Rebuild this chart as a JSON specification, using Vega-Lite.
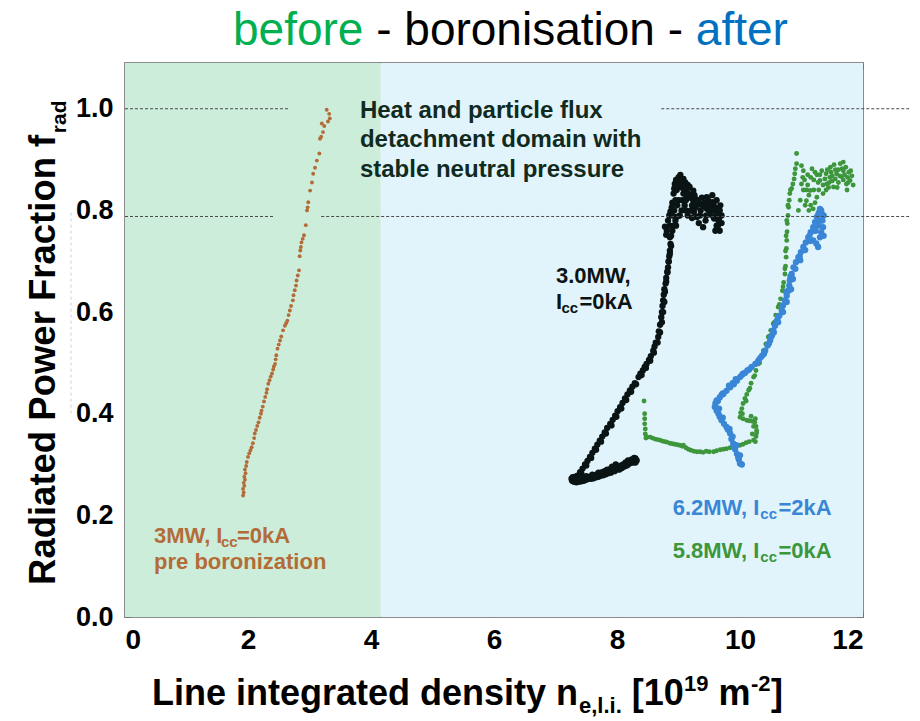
{
  "$schema": "https://vega.github.io/schema/vega-lite/v6.json",
  "width": 738,
  "height": 554,
  "autosize": {"type": "none"},
  "padding": {"left": 125, "top": 63, "right": 57, "bottom": 104},
  "background": "white",
  "datasets": {
    "regions": [
      {"era": "before", "x": 0, "x2": 4.16},
      {"era": "after", "x": 4.16, "x2": 12}
    ],
    "refs": [
      {"x": 0, "x2": 2.65, "y": 1.0},
      {"x": 8.72, "x2": 12.75, "y": 1.0},
      {"x": 0, "x2": 2.43, "y": 0.788},
      {"x": 3.19, "x2": 12.75, "y": 0.788}
    ],
    "guides": [
      {"x": -0.878, "y": 0.4, "y2": 0.8}
    ],
    "points": [
      {"key":"pre","x":1.92,"y":0.239},{"key":"pre","x":1.93,"y":0.245},{"key":"pre","x":1.92,"y":0.252},{"key":"pre","x":1.94,"y":0.258},
      {"key":"pre","x":1.93,"y":0.264},{"key":"pre","x":1.95,"y":0.27},{"key":"pre","x":1.94,"y":0.276},{"key":"pre","x":1.96,"y":0.283},
      {"key":"pre","x":1.95,"y":0.29},{"key":"pre","x":1.97,"y":0.297},{"key":"pre","x":1.98,"y":0.305},{"key":"pre","x":2.0,"y":0.315},
      {"key":"pre","x":2.02,"y":0.322},{"key":"pre","x":2.04,"y":0.328},{"key":"pre","x":2.06,"y":0.334},{"key":"pre","x":2.08,"y":0.342},
      {"key":"pre","x":2.1,"y":0.352},{"key":"pre","x":2.11,"y":0.361},{"key":"pre","x":2.13,"y":0.368},{"key":"pre","x":2.15,"y":0.376},
      {"key":"pre","x":2.17,"y":0.383},{"key":"pre","x":2.19,"y":0.392},{"key":"pre","x":2.21,"y":0.4},{"key":"pre","x":2.22,"y":0.406},
      {"key":"pre","x":2.24,"y":0.414},{"key":"pre","x":2.26,"y":0.424},{"key":"pre","x":2.28,"y":0.433},{"key":"pre","x":2.3,"y":0.441},
      {"key":"pre","x":2.31,"y":0.448},{"key":"pre","x":2.33,"y":0.459},{"key":"pre","x":2.35,"y":0.466},{"key":"pre","x":2.37,"y":0.473},
      {"key":"pre","x":2.39,"y":0.479},{"key":"pre","x":2.41,"y":0.487},{"key":"pre","x":2.42,"y":0.493},{"key":"pre","x":2.44,"y":0.498},
      {"key":"pre","x":2.45,"y":0.507},{"key":"pre","x":2.46,"y":0.515},{"key":"pre","x":2.48,"y":0.528},{"key":"pre","x":2.5,"y":0.536},
      {"key":"pre","x":2.52,"y":0.544},{"key":"pre","x":2.54,"y":0.552},{"key":"pre","x":2.57,"y":0.564},{"key":"pre","x":2.6,"y":0.573},
      {"key":"pre","x":2.62,"y":0.578},{"key":"pre","x":2.64,"y":0.583},{"key":"pre","x":2.66,"y":0.594},{"key":"pre","x":2.68,"y":0.603},
      {"key":"pre","x":2.7,"y":0.612},{"key":"pre","x":2.73,"y":0.623},{"key":"pre","x":2.74,"y":0.633},{"key":"pre","x":2.76,"y":0.643},
      {"key":"pre","x":2.78,"y":0.652},{"key":"pre","x":2.79,"y":0.662},{"key":"pre","x":2.81,"y":0.672},{"key":"pre","x":2.83,"y":0.682},
      {"key":"pre","x":2.84,"y":0.71},{"key":"pre","x":2.85,"y":0.721},{"key":"pre","x":2.86,"y":0.728},{"key":"pre","x":2.87,"y":0.737},
      {"key":"pre","x":2.89,"y":0.744},{"key":"pre","x":2.91,"y":0.751},{"key":"pre","x":2.94,"y":0.771},{"key":"pre","x":2.96,"y":0.8},
      {"key":"pre","x":2.97,"y":0.806},{"key":"pre","x":2.98,"y":0.816},{"key":"pre","x":3.01,"y":0.839},{"key":"pre","x":3.04,"y":0.855},
      {"key":"pre","x":3.06,"y":0.872},{"key":"pre","x":3.09,"y":0.884},{"key":"pre","x":3.12,"y":0.898},{"key":"pre","x":3.16,"y":0.912},
      {"key":"pre","x":3.17,"y":0.941},{"key":"pre","x":3.19,"y":0.945},{"key":"pre","x":3.22,"y":0.954},{"key":"pre","x":3.2,"y":0.971},
      {"key":"pre","x":3.24,"y":0.966},{"key":"pre","x":3.3,"y":0.975},{"key":"pre","x":3.33,"y":0.981},{"key":"pre","x":3.32,"y":0.99},
      {"key":"pre","x":3.28,"y":0.998},

      {"key":"3.0MW","x":8.32,"y":0.308},{"key":"3.0MW","x":8.3,"y":0.312},{"key":"3.0MW","x":8.26,"y":0.304},{"key":"3.0MW","x":8.22,"y":0.303},
      {"key":"3.0MW","x":8.18,"y":0.3},{"key":"3.0MW","x":8.16,"y":0.298},{"key":"3.0MW","x":8.12,"y":0.296},{"key":"3.0MW","x":8.08,"y":0.293},
      {"key":"3.0MW","x":8.04,"y":0.29},{"key":"3.0MW","x":8.0,"y":0.29},{"key":"3.0MW","x":7.96,"y":0.287},{"key":"3.0MW","x":7.94,"y":0.288},
      {"key":"3.0MW","x":7.9,"y":0.284},{"key":"3.0MW","x":7.86,"y":0.283},{"key":"3.0MW","x":7.82,"y":0.281},{"key":"3.0MW","x":7.78,"y":0.279},
      {"key":"3.0MW","x":7.74,"y":0.278},{"key":"3.0MW","x":7.7,"y":0.276},{"key":"3.0MW","x":7.66,"y":0.275},{"key":"3.0MW","x":7.62,"y":0.273},
      {"key":"3.0MW","x":7.58,"y":0.272},{"key":"3.0MW","x":7.54,"y":0.272},{"key":"3.0MW","x":7.5,"y":0.27},{"key":"3.0MW","x":7.46,"y":0.268},
      {"key":"3.0MW","x":7.42,"y":0.267},{"key":"3.0MW","x":7.38,"y":0.266},{"key":"3.0MW","x":7.34,"y":0.265},{"key":"3.0MW","x":7.3,"y":0.266},
      {"key":"3.0MW","x":7.27,"y":0.268},{"key":"3.0MW","x":7.26,"y":0.272},{"key":"3.0MW","x":7.28,"y":0.275},{"key":"3.0MW","x":7.32,"y":0.276},
      {"key":"3.0MW","x":7.36,"y":0.278},{"key":"3.0MW","x":7.4,"y":0.28},{"key":"3.0MW","x":8.1,"y":0.3},{"key":"3.0MW","x":7.9,"y":0.292},
      {"key":"3.0MW","x":7.7,"y":0.284},{"key":"3.0MW","x":7.5,"y":0.277},{"key":"3.0MW","x":7.3,"y":0.272},{"key":"3.0MW","x":8.28,"y":0.313},
      {"key":"3.0MW","x":7.6,"y":0.28},{"key":"3.0MW","x":7.8,"y":0.287},{"key":"3.0MW","x":8.0,"y":0.296},{"key":"3.0MW","x":8.2,"y":0.306},
      {"key":"3.0MW","x":8.3,"y":0.304},{"key":"3.0MW","x":8.24,"y":0.31},{"key":"3.0MW","x":8.14,"y":0.304},{"key":"3.0MW","x":8.06,"y":0.298},
      {"key":"3.0MW","x":7.98,"y":0.3},{"key":"3.0MW","x":7.92,"y":0.296},{"key":"3.0MW","x":7.84,"y":0.29},{"key":"3.0MW","x":7.76,"y":0.285},
      {"key":"3.0MW","x":7.68,"y":0.281},{"key":"3.0MW","x":7.56,"y":0.276},{"key":"3.0MW","x":7.44,"y":0.272},{"key":"3.0MW","x":7.34,"y":0.27},
      {"key":"3.0MW","x":8.18,"y":0.308},{"key":"3.0MW","x":7.88,"y":0.288},{"key":"3.0MW","x":7.64,"y":0.279},
      {"key":"3.0MW","x":7.4,"y":0.285},{"key":"3.0MW","x":7.44,"y":0.292},{"key":"3.0MW","x":7.48,"y":0.3},{"key":"3.0MW","x":7.52,"y":0.307},
      {"key":"3.0MW","x":7.56,"y":0.315},{"key":"3.0MW","x":7.6,"y":0.323},{"key":"3.0MW","x":7.64,"y":0.331},{"key":"3.0MW","x":7.68,"y":0.339},
      {"key":"3.0MW","x":7.72,"y":0.347},{"key":"3.0MW","x":7.76,"y":0.355},{"key":"3.0MW","x":7.8,"y":0.363},{"key":"3.0MW","x":7.84,"y":0.372},
      {"key":"3.0MW","x":7.89,"y":0.38},{"key":"3.0MW","x":7.93,"y":0.388},{"key":"3.0MW","x":7.97,"y":0.396},{"key":"3.0MW","x":8.01,"y":0.405},
      {"key":"3.0MW","x":8.05,"y":0.413},{"key":"3.0MW","x":8.09,"y":0.421},{"key":"3.0MW","x":8.13,"y":0.43},{"key":"3.0MW","x":8.17,"y":0.438},
      {"key":"3.0MW","x":8.21,"y":0.446},{"key":"3.0MW","x":8.25,"y":0.453},{"key":"3.0MW","x":8.29,"y":0.46},{"key":"3.0MW","x":8.35,"y":0.472},
      {"key":"3.0MW","x":8.38,"y":0.479},{"key":"3.0MW","x":8.42,"y":0.485},{"key":"3.0MW","x":8.45,"y":0.492},{"key":"3.0MW","x":8.48,"y":0.498},
      {"key":"3.0MW","x":8.52,"y":0.506},{"key":"3.0MW","x":8.55,"y":0.513},{"key":"3.0MW","x":8.59,"y":0.524},{"key":"3.0MW","x":8.61,"y":0.532},
      {"key":"3.0MW","x":8.63,"y":0.54},{"key":"3.0MW","x":8.67,"y":0.551},{"key":"3.0MW","x":8.68,"y":0.562},{"key":"3.0MW","x":8.7,"y":0.575},
      {"key":"3.0MW","x":8.72,"y":0.59},{"key":"3.0MW","x":8.73,"y":0.6},{"key":"3.0MW","x":8.74,"y":0.612},{"key":"3.0MW","x":8.75,"y":0.623},
      {"key":"3.0MW","x":8.76,"y":0.634},{"key":"3.0MW","x":8.77,"y":0.645},{"key":"3.0MW","x":8.79,"y":0.656},{"key":"3.0MW","x":8.8,"y":0.667},
      {"key":"3.0MW","x":8.82,"y":0.678},{"key":"3.0MW","x":8.83,"y":0.688},{"key":"3.0MW","x":8.84,"y":0.699},{"key":"3.0MW","x":8.85,"y":0.71},
      {"key":"3.0MW","x":8.86,"y":0.721},{"key":"3.0MW","x":8.87,"y":0.734},{"key":"3.0MW","x":8.86,"y":0.747},{"key":"3.0MW","x":8.81,"y":0.76},
      {"key":"3.0MW","x":8.8,"y":0.752},{"key":"3.0MW","x":8.78,"y":0.768},{"key":"3.0MW","x":8.83,"y":0.78},{"key":"3.0MW","x":8.85,"y":0.79},
      {"key":"3.0MW","x":8.87,"y":0.798},{"key":"3.0MW","x":8.89,"y":0.806},{"key":"3.0MW","x":8.9,"y":0.815},{"key":"3.0MW","x":8.92,"y":0.833},
      {"key":"3.0MW","x":8.93,"y":0.843},{"key":"3.0MW","x":8.94,"y":0.852},{"key":"3.0MW","x":8.96,"y":0.86},{"key":"3.0MW","x":9.0,"y":0.865},
      {"key":"3.0MW","x":9.03,"y":0.87},{"key":"3.0MW","x":9.08,"y":0.862},{"key":"3.0MW","x":9.11,"y":0.855},{"key":"3.0MW","x":9.15,"y":0.85},
      {"key":"3.0MW","x":9.18,"y":0.846},{"key":"3.0MW","x":9.13,"y":0.826},{"key":"3.0MW","x":9.2,"y":0.83},{"key":"3.0MW","x":9.24,"y":0.819},
      {"key":"3.0MW","x":9.28,"y":0.822},{"key":"3.0MW","x":9.3,"y":0.81},{"key":"3.0MW","x":9.35,"y":0.813},{"key":"3.0MW","x":9.4,"y":0.808},
      {"key":"3.0MW","x":9.46,"y":0.803},{"key":"3.0MW","x":9.5,"y":0.81},{"key":"3.0MW","x":9.55,"y":0.816},{"key":"3.0MW","x":9.57,"y":0.813},
      {"key":"3.0MW","x":9.6,"y":0.805},{"key":"3.0MW","x":9.63,"y":0.795},{"key":"3.0MW","x":9.67,"y":0.8},{"key":"3.0MW","x":9.65,"y":0.78},
      {"key":"3.0MW","x":9.67,"y":0.76},{"key":"3.0MW","x":9.62,"y":0.77},{"key":"3.0MW","x":9.58,"y":0.784},{"key":"3.0MW","x":9.52,"y":0.792},
      {"key":"3.0MW","x":9.45,"y":0.79},{"key":"3.0MW","x":9.4,"y":0.767},{"key":"3.0MW","x":9.3,"y":0.787},{"key":"3.0MW","x":9.25,"y":0.797},
      {"key":"3.0MW","x":9.2,"y":0.8},{"key":"3.0MW","x":9.1,"y":0.81},{"key":"3.0MW","x":9.05,"y":0.8},{"key":"3.0MW","x":8.97,"y":0.787},
      {"key":"3.0MW","x":9.0,"y":0.82},{"key":"3.0MW","x":9.08,"y":0.833},{"key":"3.0MW","x":9.24,"y":0.839},{"key":"3.0MW","x":9.46,"y":0.826},
      {"key":"3.0MW","x":9.57,"y":0.787},{"key":"3.0MW","x":9.35,"y":0.79},{"key":"3.0MW","x":9.15,"y":0.79},{"key":"3.0MW","x":9.12,"y":0.82},
      {"key":"3.0MW","x":9.05,"y":0.845},{"key":"3.0MW","x":8.98,"y":0.81},{"key":"3.0MW","x":8.95,"y":0.78},{"key":"3.0MW","x":8.9,"y":0.76},
      {"key":"3.0MW","x":8.92,"y":0.77},{"key":"3.0MW","x":9.38,"y":0.825},{"key":"3.0MW","x":9.5,"y":0.8},{"key":"3.0MW","x":9.62,"y":0.82},
      {"key":"3.0MW","x":9.7,"y":0.79},
      {"key":"3.0MW","x":7.42,"y":0.283},{"key":"3.0MW","x":7.5,"y":0.298},{"key":"3.0MW","x":7.58,"y":0.313},{"key":"3.0MW","x":7.66,"y":0.329},
      {"key":"3.0MW","x":7.74,"y":0.345},{"key":"3.0MW","x":7.82,"y":0.361},{"key":"3.0MW","x":7.91,"y":0.377},{"key":"3.0MW","x":7.99,"y":0.394},
      {"key":"3.0MW","x":8.07,"y":0.41},{"key":"3.0MW","x":8.15,"y":0.427},{"key":"3.0MW","x":8.23,"y":0.443},{"key":"3.0MW","x":8.31,"y":0.458},
      {"key":"3.0MW","x":8.4,"y":0.476},{"key":"3.0MW","x":8.47,"y":0.49},{"key":"3.0MW","x":8.54,"y":0.504},{"key":"3.0MW","x":8.6,"y":0.52},
      {"key":"3.0MW","x":8.66,"y":0.54},{"key":"3.0MW","x":8.7,"y":0.56},{"key":"3.0MW","x":8.73,"y":0.58},{"key":"3.0MW","x":8.75,"y":0.6},
      {"key":"3.0MW","x":8.77,"y":0.62},{"key":"3.0MW","x":8.78,"y":0.64},{"key":"3.0MW","x":8.8,"y":0.66},{"key":"3.0MW","x":8.82,"y":0.68},
      {"key":"3.0MW","x":8.84,"y":0.7},{"key":"3.0MW","x":8.86,"y":0.715},{"key":"3.0MW","x":8.88,"y":0.73},
      {"key":"3.0MW","x":8.88,"y":0.75},{"key":"3.0MW","x":8.86,"y":0.77},{"key":"3.0MW","x":8.9,"y":0.79},{"key":"3.0MW","x":8.93,"y":0.8},
      {"key":"3.0MW","x":8.95,"y":0.82},{"key":"3.0MW","x":8.97,"y":0.84},{"key":"3.0MW","x":8.99,"y":0.85},{"key":"3.0MW","x":9.02,"y":0.855},
      {"key":"3.0MW","x":9.06,"y":0.85},{"key":"3.0MW","x":9.1,"y":0.84},{"key":"3.0MW","x":9.14,"y":0.835},{"key":"3.0MW","x":9.18,"y":0.825},
      {"key":"3.0MW","x":9.22,"y":0.81},{"key":"3.0MW","x":9.27,"y":0.805},{"key":"3.0MW","x":9.32,"y":0.82},{"key":"3.0MW","x":9.36,"y":0.8},
      {"key":"3.0MW","x":9.42,"y":0.815},{"key":"3.0MW","x":9.48,"y":0.82},{"key":"3.0MW","x":9.53,"y":0.805},{"key":"3.0MW","x":9.58,"y":0.8},
      {"key":"3.0MW","x":9.62,"y":0.79},{"key":"3.0MW","x":9.66,"y":0.785},{"key":"3.0MW","x":9.7,"y":0.775},{"key":"3.0MW","x":9.68,"y":0.81},
      {"key":"3.0MW","x":9.44,"y":0.78},{"key":"3.0MW","x":9.33,"y":0.775},{"key":"3.0MW","x":9.22,"y":0.785},{"key":"3.0MW","x":9.12,"y":0.8},
      {"key":"3.0MW","x":9.02,"y":0.79},{"key":"3.0MW","x":8.96,"y":0.77},{"key":"3.0MW","x":9.06,"y":0.82},{"key":"3.0MW","x":9.16,"y":0.845},
      {"key":"3.0MW","x":9.26,"y":0.83},{"key":"3.0MW","x":9.55,"y":0.83},{"key":"3.0MW","x":9.64,"y":0.77},{"key":"3.0MW","x":9.6,"y":0.76},

      {"key":"5.8MW","x":8.44,"y":0.425},{"key":"5.8MW","x":8.45,"y":0.4},{"key":"5.8MW","x":8.45,"y":0.39},{"key":"5.8MW","x":8.45,"y":0.38},
      {"key":"5.8MW","x":8.46,"y":0.37},{"key":"5.8MW","x":8.46,"y":0.36},{"key":"5.8MW","x":8.47,"y":0.352},{"key":"5.8MW","x":8.5,"y":0.354},
      {"key":"5.8MW","x":8.54,"y":0.354},{"key":"5.8MW","x":8.58,"y":0.352},{"key":"5.8MW","x":8.62,"y":0.35},{"key":"5.8MW","x":8.66,"y":0.349},
      {"key":"5.8MW","x":8.7,"y":0.348},{"key":"5.8MW","x":8.74,"y":0.346},{"key":"5.8MW","x":8.78,"y":0.345},{"key":"5.8MW","x":8.81,"y":0.344},
      {"key":"5.8MW","x":8.86,"y":0.342},{"key":"5.8MW","x":8.9,"y":0.341},{"key":"5.8MW","x":8.94,"y":0.34},{"key":"5.8MW","x":8.98,"y":0.339},
      {"key":"5.8MW","x":9.02,"y":0.338},{"key":"5.8MW","x":9.06,"y":0.336},{"key":"5.8MW","x":9.08,"y":0.338},{"key":"5.8MW","x":9.12,"y":0.333},
      {"key":"5.8MW","x":9.16,"y":0.33},{"key":"5.8MW","x":9.2,"y":0.328},{"key":"5.8MW","x":9.25,"y":0.326},{"key":"5.8MW","x":9.3,"y":0.325},
      {"key":"5.8MW","x":9.35,"y":0.325},{"key":"5.8MW","x":9.4,"y":0.324},{"key":"5.8MW","x":9.45,"y":0.326},{"key":"5.8MW","x":9.5,"y":0.325},
      {"key":"5.8MW","x":9.57,"y":0.325},{"key":"5.8MW","x":9.62,"y":0.327},{"key":"5.8MW","x":9.68,"y":0.329},{"key":"5.8MW","x":9.73,"y":0.33},
      {"key":"5.8MW","x":9.78,"y":0.331},{"key":"5.8MW","x":9.84,"y":0.333},{"key":"5.8MW","x":9.9,"y":0.335},{"key":"5.8MW","x":9.95,"y":0.337},
      {"key":"5.8MW","x":10.0,"y":0.338},{"key":"5.8MW","x":10.05,"y":0.34},{"key":"5.8MW","x":10.1,"y":0.343},{"key":"5.8MW","x":10.15,"y":0.345},
      {"key":"5.8MW","x":10.22,"y":0.348},{"key":"5.8MW","x":10.26,"y":0.355},{"key":"5.8MW","x":10.27,"y":0.362},{"key":"5.8MW","x":10.27,"y":0.367},
      {"key":"5.8MW","x":10.26,"y":0.375},{"key":"5.8MW","x":10.24,"y":0.383},{"key":"5.8MW","x":10.2,"y":0.385},{"key":"5.8MW","x":10.15,"y":0.386},
      {"key":"5.8MW","x":10.11,"y":0.387},{"key":"5.8MW","x":10.05,"y":0.39},{"key":"5.8MW","x":10.0,"y":0.393},{"key":"5.8MW","x":10.01,"y":0.402},
      {"key":"5.8MW","x":10.03,"y":0.41},{"key":"5.8MW","x":10.05,"y":0.42},{"key":"5.8MW","x":10.08,"y":0.43},{"key":"5.8MW","x":10.11,"y":0.438},
      {"key":"5.8MW","x":10.14,"y":0.446},{"key":"5.8MW","x":10.18,"y":0.46},{"key":"5.8MW","x":10.22,"y":0.472},{"key":"5.8MW","x":10.26,"y":0.485},
      {"key":"5.8MW","x":10.3,"y":0.498},{"key":"5.8MW","x":10.34,"y":0.511},{"key":"5.8MW","x":10.38,"y":0.524},{"key":"5.8MW","x":10.42,"y":0.537},
      {"key":"5.8MW","x":10.46,"y":0.551},{"key":"5.8MW","x":10.5,"y":0.564},{"key":"5.8MW","x":10.54,"y":0.577},{"key":"5.8MW","x":10.58,"y":0.594},
      {"key":"5.8MW","x":10.62,"y":0.61},{"key":"5.8MW","x":10.66,"y":0.626},{"key":"5.8MW","x":10.69,"y":0.642},{"key":"5.8MW","x":10.71,"y":0.658},
      {"key":"5.8MW","x":10.73,"y":0.675},{"key":"5.8MW","x":10.74,"y":0.69},{"key":"5.8MW","x":10.75,"y":0.708},{"key":"5.8MW","x":10.755,"y":0.725},
      {"key":"5.8MW","x":10.76,"y":0.741},{"key":"5.8MW","x":10.765,"y":0.758},{"key":"5.8MW","x":10.77,"y":0.774},{"key":"5.8MW","x":10.78,"y":0.79},
      {"key":"5.8MW","x":10.79,"y":0.806},{"key":"5.8MW","x":10.8,"y":0.82},{"key":"5.8MW","x":10.81,"y":0.833},{"key":"5.8MW","x":10.84,"y":0.843},
      {"key":"5.8MW","x":10.86,"y":0.852},{"key":"5.8MW","x":10.88,"y":0.862},{"key":"5.8MW","x":10.89,"y":0.872},{"key":"5.8MW","x":10.9,"y":0.882},
      {"key":"5.8MW","x":10.92,"y":0.892},{"key":"5.8MW","x":10.92,"y":0.912},{"key":"5.8MW","x":10.2,"y":0.36},{"key":"5.8MW","x":10.22,"y":0.375},
      {"key":"5.8MW","x":10.25,"y":0.345},{"key":"5.8MW","x":10.18,"y":0.395},{"key":"5.8MW","x":10.25,"y":0.39},
      {"key":"5.8MW","x":10.04,"y":0.4},{"key":"5.8MW","x":10.1,"y":0.425},{"key":"5.8MW","x":10.16,"y":0.45},{"key":"5.8MW","x":10.24,"y":0.475},
      {"key":"5.8MW","x":10.32,"y":0.5},{"key":"5.8MW","x":10.4,"y":0.525},{"key":"5.8MW","x":10.48,"y":0.553},{"key":"5.8MW","x":10.56,"y":0.58},
      {"key":"5.8MW","x":10.64,"y":0.615},{"key":"5.8MW","x":10.7,"y":0.65},{"key":"5.8MW","x":10.73,"y":0.685},{"key":"5.8MW","x":10.74,"y":0.72},
      {"key":"5.8MW","x":10.75,"y":0.75},{"key":"5.8MW","x":10.76,"y":0.78},{"key":"5.8MW","x":10.78,"y":0.81},{"key":"5.8MW","x":10.82,"y":0.84},
      {"key":"5.8MW","x":11.0,"y":0.852},{"key":"5.8MW","x":11.08,"y":0.819},{"key":"5.8MW","x":11.19,"y":0.803},{"key":"5.8MW","x":11.14,"y":0.839},
      {"key":"5.8MW","x":11.3,"y":0.859},{"key":"5.8MW","x":11.46,"y":0.865},{"key":"5.8MW","x":11.57,"y":0.872},{"key":"5.8MW","x":11.68,"y":0.878},
      {"key":"5.8MW","x":11.79,"y":0.859},{"key":"5.8MW","x":11.73,"y":0.852},{"key":"5.8MW","x":11.52,"y":0.846},{"key":"5.8MW","x":11.35,"y":0.833},
      {"key":"5.8MW","x":11.25,"y":0.826},{"key":"5.8MW","x":11.41,"y":0.852},{"key":"5.8MW","x":11.03,"y":0.878},{"key":"5.8MW","x":11.0,"y":0.888},
      {"key":"5.8MW","x":11.63,"y":0.892},{"key":"5.8MW","x":11.68,"y":0.895},{"key":"5.8MW","x":11.33,"y":0.878},{"key":"5.8MW","x":11.17,"y":0.882},
      {"key":"5.8MW","x":11.05,"y":0.86},{"key":"5.8MW","x":11.1,"y":0.85},{"key":"5.8MW","x":11.12,"y":0.83},{"key":"5.8MW","x":11.15,"y":0.81},
      {"key":"5.8MW","x":11.22,"y":0.815},{"key":"5.8MW","x":11.28,"y":0.84},{"key":"5.8MW","x":11.2,"y":0.86},{"key":"5.8MW","x":11.38,"y":0.862},
      {"key":"5.8MW","x":11.44,"y":0.845},{"key":"5.8MW","x":11.5,"y":0.858},{"key":"5.8MW","x":11.55,"y":0.862},{"key":"5.8MW","x":11.6,"y":0.855},
      {"key":"5.8MW","x":11.65,"y":0.866},{"key":"5.8MW","x":11.7,"y":0.87},{"key":"5.8MW","x":11.75,"y":0.865},{"key":"5.8MW","x":11.77,"y":0.875},
      {"key":"5.8MW","x":11.6,"y":0.88},{"key":"5.8MW","x":11.48,"y":0.875},{"key":"5.8MW","x":11.4,"y":0.872},{"key":"5.8MW","x":11.25,"y":0.87},
      {"key":"5.8MW","x":11.1,"y":0.87},{"key":"5.8MW","x":11.03,"y":0.84},{"key":"5.8MW","x":10.98,"y":0.82},{"key":"5.8MW","x":10.95,"y":0.8},
      {"key":"5.8MW","x":11.06,"y":0.81},{"key":"5.8MW","x":11.12,"y":0.8},{"key":"5.8MW","x":11.82,"y":0.868},{"key":"5.8MW","x":11.72,"y":0.885},
      {"key":"5.8MW","x":11.55,"y":0.88},{"key":"5.8MW","x":11.3,"y":0.87},{"key":"5.8MW","x":11.45,"y":0.855},{"key":"5.8MW","x":11.62,"y":0.868},
      {"key":"5.8MW","x":11.68,"y":0.86},{"key":"5.8MW","x":11.76,"y":0.855},{"key":"5.8MW","x":11.8,"y":0.878},{"key":"5.8MW","x":11.5,"y":0.868},
      {"key":"5.8MW","x":11.35,"y":0.85},{"key":"5.8MW","x":11.2,"y":0.84},{"key":"5.8MW","x":11.08,"y":0.84},
      {"key":"5.8MW","x":11.15,"y":0.865},{"key":"5.8MW","x":11.27,"y":0.855},{"key":"5.8MW","x":11.42,"y":0.88},{"key":"5.8MW","x":11.53,"y":0.89},
      {"key":"5.8MW","x":11.66,"y":0.882},{"key":"5.8MW","x":11.74,"y":0.84},{"key":"5.8MW","x":11.84,"y":0.85},{"key":"5.8MW","x":11.58,"y":0.845},
      {"key":"5.8MW","x":11.02,"y":0.865},{"key":"5.8MW","x":11.22,"y":0.875},{"key":"5.8MW","x":11.4,"y":0.84},{"key":"5.8MW","x":11.47,"y":0.885},

      {"key":"6.2MW","x":10.0,"y":0.302},{"key":"6.2MW","x":9.98,"y":0.31},{"key":"6.2MW","x":9.95,"y":0.321},{"key":"6.2MW","x":9.92,"y":0.33},
      {"key":"6.2MW","x":9.89,"y":0.341},{"key":"6.2MW","x":9.86,"y":0.35},{"key":"6.2MW","x":9.84,"y":0.361},{"key":"6.2MW","x":9.81,"y":0.368},
      {"key":"6.2MW","x":9.78,"y":0.374},{"key":"6.2MW","x":9.74,"y":0.38},{"key":"6.2MW","x":9.7,"y":0.387},{"key":"6.2MW","x":9.67,"y":0.394},
      {"key":"6.2MW","x":9.65,"y":0.4},{"key":"6.2MW","x":9.62,"y":0.406},{"key":"6.2MW","x":9.59,"y":0.413},{"key":"6.2MW","x":9.6,"y":0.42},
      {"key":"6.2MW","x":9.62,"y":0.426},{"key":"6.2MW","x":9.67,"y":0.432},{"key":"6.2MW","x":9.73,"y":0.439},{"key":"6.2MW","x":9.78,"y":0.445},
      {"key":"6.2MW","x":9.84,"y":0.452},{"key":"6.2MW","x":9.9,"y":0.458},{"key":"6.2MW","x":9.95,"y":0.465},{"key":"6.2MW","x":10.0,"y":0.472},
      {"key":"6.2MW","x":10.05,"y":0.479},{"key":"6.2MW","x":10.12,"y":0.485},{"key":"6.2MW","x":10.19,"y":0.492},{"key":"6.2MW","x":10.25,"y":0.498},
      {"key":"6.2MW","x":10.3,"y":0.505},{"key":"6.2MW","x":10.36,"y":0.514},{"key":"6.2MW","x":10.41,"y":0.524},{"key":"6.2MW","x":10.45,"y":0.534},
      {"key":"6.2MW","x":10.49,"y":0.544},{"key":"6.2MW","x":10.52,"y":0.554},{"key":"6.2MW","x":10.54,"y":0.564},{"key":"6.2MW","x":10.57,"y":0.573},
      {"key":"6.2MW","x":10.6,"y":0.583},{"key":"6.2MW","x":10.64,"y":0.593},{"key":"6.2MW","x":10.68,"y":0.603},{"key":"6.2MW","x":10.7,"y":0.613},
      {"key":"6.2MW","x":10.73,"y":0.623},{"key":"6.2MW","x":10.76,"y":0.632},{"key":"6.2MW","x":10.79,"y":0.642},{"key":"6.2MW","x":10.8,"y":0.652},
      {"key":"6.2MW","x":10.81,"y":0.662},{"key":"6.2MW","x":10.84,"y":0.675},{"key":"6.2MW","x":10.87,"y":0.688},{"key":"6.2MW","x":10.91,"y":0.698},
      {"key":"6.2MW","x":10.95,"y":0.708},{"key":"6.2MW","x":10.99,"y":0.718},{"key":"6.2MW","x":11.03,"y":0.728},{"key":"6.2MW","x":11.07,"y":0.737},
      {"key":"6.2MW","x":11.11,"y":0.747},{"key":"6.2MW","x":11.15,"y":0.757},{"key":"6.2MW","x":11.19,"y":0.767},{"key":"6.2MW","x":11.22,"y":0.777},
      {"key":"6.2MW","x":11.25,"y":0.787},{"key":"6.2MW","x":11.28,"y":0.795},{"key":"6.2MW","x":11.3,"y":0.803},{"key":"6.2MW","x":11.33,"y":0.793},
      {"key":"6.2MW","x":11.34,"y":0.78},{"key":"6.2MW","x":11.35,"y":0.767},{"key":"6.2MW","x":11.32,"y":0.757},{"key":"6.2MW","x":11.3,"y":0.747},
      {"key":"6.2MW","x":11.27,"y":0.728},{"key":"6.2MW","x":11.24,"y":0.735},{"key":"6.2MW","x":11.19,"y":0.741},{"key":"6.2MW","x":11.23,"y":0.76},
      {"key":"6.2MW","x":11.28,"y":0.77},{"key":"6.2MW","x":11.3,"y":0.78},{"key":"6.2MW","x":9.97,"y":0.315},{"key":"6.2MW","x":9.9,"y":0.335},
      {"key":"6.2MW","x":9.8,"y":0.37},{"key":"6.2MW","x":9.63,"y":0.41},{"key":"6.2MW","x":9.7,"y":0.437},{"key":"6.2MW","x":9.88,"y":0.46},
      {"key":"6.2MW","x":10.08,"y":0.48},{"key":"6.2MW","x":10.33,"y":0.51},{"key":"6.2MW","x":10.5,"y":0.55},{"key":"6.2MW","x":10.62,"y":0.59},
      {"key":"6.2MW","x":10.75,"y":0.64},{"key":"6.2MW","x":10.82,"y":0.67},{"key":"6.2MW","x":10.97,"y":0.71},{"key":"6.2MW","x":11.13,"y":0.75},
      {"key":"6.2MW","x":11.27,"y":0.79},
      {"key":"6.2MW","x":10.03,"y":0.3},{"key":"6.2MW","x":10.0,"y":0.318},{"key":"6.2MW","x":9.94,"y":0.338},{"key":"6.2MW","x":9.88,"y":0.355},
      {"key":"6.2MW","x":9.83,"y":0.37},{"key":"6.2MW","x":9.72,"y":0.392},{"key":"6.2MW","x":9.66,"y":0.41},{"key":"6.2MW","x":9.64,"y":0.425},
      {"key":"6.2MW","x":9.72,"y":0.44},{"key":"6.2MW","x":9.82,"y":0.455},{"key":"6.2MW","x":9.93,"y":0.468},{"key":"6.2MW","x":10.03,"y":0.476},
      {"key":"6.2MW","x":10.15,"y":0.487},{"key":"6.2MW","x":10.28,"y":0.5},{"key":"6.2MW","x":10.39,"y":0.518},{"key":"6.2MW","x":10.47,"y":0.538},
      {"key":"6.2MW","x":10.55,"y":0.56},{"key":"6.2MW","x":10.62,"y":0.58},{"key":"6.2MW","x":10.7,"y":0.6},{"key":"6.2MW","x":10.76,"y":0.62},
      {"key":"6.2MW","x":10.83,"y":0.645},{"key":"6.2MW","x":10.86,"y":0.665},{"key":"6.2MW","x":10.9,"y":0.685},{"key":"6.2MW","x":10.98,"y":0.702},
      {"key":"6.2MW","x":11.06,"y":0.722},{"key":"6.2MW","x":11.14,"y":0.74},{"key":"6.2MW","x":11.21,"y":0.76},{"key":"6.2MW","x":11.26,"y":0.775},
      {"key":"6.2MW","x":11.32,"y":0.8},{"key":"6.2MW","x":11.36,"y":0.79},{"key":"6.2MW","x":11.36,"y":0.75}
    ],
    "labels": [
      {"kind":"title","key":"before-text","text":"before","x":2.816,"y":1.125},
      {"kind":"title","key":"boronisation","text":"- boronisation -","x":6.579,"y":1.125},
      {"kind":"title","key":"after-text","text":"after","x":10.03,"y":1.125},
      {"kind":"note","key":"note","text":"Heat and particle flux","x":3.82,"y":0.982},
      {"kind":"note","key":"note","text":"detachment domain with","x":3.82,"y":0.925},
      {"kind":"note","key":"note","text":"stable neutral pressure","x":3.82,"y":0.866},
      {"kind":"label","key":"3.0MW","text":"3.0MW,","x":7.008,"y":0.657},
      {"kind":"label","key":"3.0MW","text":"I","x":7.008,"y":0.606},
      {"kind":"label","key":"3.0MW","text":"=0kA","x":7.39,"y":0.606},
      {"kind":"label-sub","key":"3.0MW","text":"cc","x":7.098,"y":0.598},
      {"kind":"label","key":"6.2MW","text":"6.2MW, I","x":8.905,"y":0.2007},
      {"kind":"label","key":"6.2MW","text":"=2kA","x":10.626,"y":0.2007},
      {"kind":"label-sub","key":"6.2MW","text":"cc","x":10.33,"y":0.193},
      {"kind":"label","key":"5.8MW","text":"5.8MW, I","x":8.905,"y":0.116},
      {"kind":"label","key":"5.8MW","text":"=0kA","x":10.626,"y":0.116},
      {"kind":"label-sub","key":"5.8MW","text":"cc","x":10.33,"y":0.108},
      {"kind":"label","key":"pre","text":"3MW, I","x":0.472,"y":0.145},
      {"kind":"label","key":"pre","text":"=0kA","x":1.821,"y":0.145},
      {"kind":"label","key":"pre","text":"pre boronization","x":0.472,"y":0.094},
      {"kind":"label-sub","key":"pre","text":"cc","x":1.561,"y":0.138},
      {"kind":"xtitle","key":"axis","text":"Line integrated density n","x":0.439,"y":-0.173},
      {"kind":"xtitle","key":"axis","text":"[10","x":8.241,"y":-0.173},
      {"kind":"xtitle","key":"axis","text":"m","x":9.65,"y":-0.173},
      {"kind":"xtitle","key":"axis","text":"]","x":10.504,"y":-0.173},
      {"kind":"xtitle-small","key":"axis","text":"e,l.i.","x":7.382,"y":-0.189},
      {"kind":"xtitle-small","key":"axis","text":"19","x":9.089,"y":-0.146},
      {"kind":"xtitle-small","key":"axis","text":"-2","x":10.179,"y":-0.146},
      {"kind":"ytitle","key":"axis","text":"Radiated Power Fraction f","x":-1.138,"y":0.063},
      {"kind":"ytitle-sub","key":"axis","text":"rad","x":-0.959,"y":0.952}
    ]
  },
  "resolve": {"axis": {"x": "independent", "y": "independent"}},
  "layer": [
    {
      "data": {"name": "regions"},
      "mark": {"type": "rect"},
      "encoding": {
        "x": {"field": "x", "type": "quantitative", "scale": {"domain": [0, 12], "nice": false, "zero": false}, "axis": null},
        "x2": {"field": "x2"},
        "color": {"field": "era", "type": "nominal", "legend": null,
          "scale": {"domain": ["before", "after", "pre", "3.0MW", "6.2MW", "5.8MW", "boronisation", "note", "axis", "before-text", "after-text"],
                    "range": ["#CDEDDB", "#E2F4FB", "#B36C38", "#0B1414", "#3A86D6", "#3D963B", "#000000", "#102A20", "#000000", "#00B050", "#0070C0"]}}
      }
    },
    {
      "data": {"name": "guides"},
      "mark": {"type": "rule", "color": "#cfcfcf", "strokeDash": [3, 3], "strokeWidth": 1},
      "encoding": {
        "x": {"field": "x", "type": "quantitative", "scale": {"domain": [0, 12], "nice": false, "zero": false}, "axis": null},
        "y": {"field": "y", "type": "quantitative", "scale": {"domain": [0, 1.09], "nice": false, "zero": false}, "axis": null},
        "y2": {"field": "y2"}
      }
    },
    {
      "data": {"name": "points"},
      "mark": {"type": "circle", "opacity": 1},
      "encoding": {
        "x": {"field": "x", "type": "quantitative", "scale": {"domain": [0, 12], "nice": false, "zero": false},
          "axis": {"orient": "top", "values": [0, 2, 4, 6, 8, 10, 12], "labels": false, "ticks": true, "tickSize": -6, "tickColor": "#777777", "domain": false, "grid": false, "title": null}},
        "y": {"field": "y", "type": "quantitative", "scale": {"domain": [0, 1.09], "nice": false, "zero": false},
          "axis": {"orient": "right", "values": [0, 0.2, 0.4, 0.6, 0.8, 1.0], "labels": false, "ticks": true, "tickSize": -6, "tickColor": "#777777", "domain": false, "grid": false, "title": null}},
        "size": {"field": "key", "type": "nominal", "legend": null,
          "scale": {"type": "ordinal", "domain": ["pre", "3.0MW", "6.2MW", "5.8MW"], "range": [15, 40, 40, 24]}},
        "color": {"field": "key", "type": "nominal", "legend": null,
          "scale": {"domain": ["before", "after", "pre", "3.0MW", "6.2MW", "5.8MW", "boronisation", "note", "axis", "before-text", "after-text"],
                    "range": ["#CDEDDB", "#E2F4FB", "#B36C38", "#0B1414", "#3A86D6", "#3D963B", "#000000", "#102A20", "#000000", "#00B050", "#0070C0"]}}
      }
    },
    {
      "data": {"name": "refs"},
      "mark": {"type": "rule", "color": "#4a4a4a", "strokeDash": [3, 2], "strokeWidth": 1},
      "encoding": {
        "x": {"field": "x", "type": "quantitative", "scale": {"domain": [0, 12], "nice": false, "zero": false},
          "axis": {"orient": "bottom", "values": [0, 2, 4, 6, 8, 10, 12], "labels": true, "labelPadding": 15, "ticks": true, "tickSize": -6, "tickColor": "#777777", "domain": false, "grid": false, "title": null,
                   "labelFont": "Liberation Sans", "labelFontWeight": "bold", "labelFontSize": 28, "labelColor": "#000000"}},
        "x2": {"field": "x2"},
        "y": {"field": "y", "type": "quantitative", "scale": {"domain": [0, 1.09], "nice": false, "zero": false},
          "axis": {"orient": "left", "values": [0, 0.2, 0.4, 0.6, 0.8, 1.0], "format": ".1f", "labels": true, "labelPadding": 18, "ticks": true, "tickSize": -6, "tickColor": "#777777", "domain": false, "grid": false, "title": null,
                   "labelFont": "Liberation Sans", "labelFontWeight": "bold", "labelFontSize": 27, "labelColor": "#000000"}}
      }
    },
    {
      "data": {"name": "labels"},
      "transform": [{"filter": "datum.kind === 'title'"}],
      "mark": {"type": "text", "font": "Liberation Sans", "fontSize": 46, "align": "center", "baseline": "alphabetic"},
      "encoding": {
        "x": {"field": "x", "type": "quantitative", "scale": {"domain": [0, 12], "nice": false, "zero": false}, "axis": null},
        "y": {"field": "y", "type": "quantitative", "scale": {"domain": [0, 1.09], "nice": false, "zero": false}, "axis": null},
        "text": {"field": "text"},
        "color": {"field": "key", "type": "nominal", "legend": null,
          "scale": {"domain": ["before", "after", "pre", "3.0MW", "6.2MW", "5.8MW", "boronisation", "note", "axis", "before-text", "after-text"],
                    "range": ["#CDEDDB", "#E2F4FB", "#B36C38", "#0B1414", "#3A86D6", "#3D963B", "#000000", "#102A20", "#000000", "#00B050", "#0070C0"]}}
      }
    },
    {
      "data": {"name": "labels"},
      "transform": [{"filter": "datum.kind === 'note'"}],
      "mark": {"type": "text", "font": "Liberation Sans", "fontWeight": "bold", "fontSize": 24, "align": "left", "baseline": "alphabetic", "color": "#102A20"},
      "encoding": {
        "x": {"field": "x", "type": "quantitative", "scale": {"domain": [0, 12], "nice": false, "zero": false}, "axis": null},
        "y": {"field": "y", "type": "quantitative", "scale": {"domain": [0, 1.09], "nice": false, "zero": false}, "axis": null},
        "text": {"field": "text"}
      }
    },
    {
      "data": {"name": "labels"},
      "transform": [{"filter": "datum.kind === 'label'"}],
      "mark": {"type": "text", "font": "Liberation Sans", "fontWeight": "bold", "fontSize": 22, "align": "left", "baseline": "alphabetic"},
      "encoding": {
        "x": {"field": "x", "type": "quantitative", "scale": {"domain": [0, 12], "nice": false, "zero": false}, "axis": null},
        "y": {"field": "y", "type": "quantitative", "scale": {"domain": [0, 1.09], "nice": false, "zero": false}, "axis": null},
        "text": {"field": "text"},
        "color": {"field": "key", "type": "nominal", "legend": null,
          "scale": {"domain": ["before", "after", "pre", "3.0MW", "6.2MW", "5.8MW", "boronisation", "note", "axis", "before-text", "after-text"],
                    "range": ["#CDEDDB", "#E2F4FB", "#B36C38", "#0B1414", "#3A86D6", "#3D963B", "#000000", "#102A20", "#000000", "#00B050", "#0070C0"]}}
      }
    },
    {
      "data": {"name": "labels"},
      "transform": [{"filter": "datum.kind === 'label-sub'"}],
      "mark": {"type": "text", "font": "Liberation Sans", "fontWeight": "bold", "fontSize": 15, "align": "left", "baseline": "alphabetic"},
      "encoding": {
        "x": {"field": "x", "type": "quantitative", "scale": {"domain": [0, 12], "nice": false, "zero": false}, "axis": null},
        "y": {"field": "y", "type": "quantitative", "scale": {"domain": [0, 1.09], "nice": false, "zero": false}, "axis": null},
        "text": {"field": "text"},
        "color": {"field": "key", "type": "nominal", "legend": null,
          "scale": {"domain": ["before", "after", "pre", "3.0MW", "6.2MW", "5.8MW", "boronisation", "note", "axis", "before-text", "after-text"],
                    "range": ["#CDEDDB", "#E2F4FB", "#B36C38", "#0B1414", "#3A86D6", "#3D963B", "#000000", "#102A20", "#000000", "#00B050", "#0070C0"]}}
      }
    },
    {
      "data": {"name": "labels"},
      "transform": [{"filter": "datum.kind === 'xtitle'"}],
      "mark": {"type": "text", "font": "Liberation Sans", "fontWeight": "bold", "fontSize": 36, "align": "left", "baseline": "alphabetic", "color": "#000000"},
      "encoding": {
        "x": {"field": "x", "type": "quantitative", "scale": {"domain": [0, 12], "nice": false, "zero": false}, "axis": null},
        "y": {"field": "y", "type": "quantitative", "scale": {"domain": [0, 1.09], "nice": false, "zero": false}, "axis": null},
        "text": {"field": "text"}
      }
    },
    {
      "data": {"name": "labels"},
      "transform": [{"filter": "datum.kind === 'xtitle-small'"}],
      "mark": {"type": "text", "font": "Liberation Sans", "fontWeight": "bold", "fontSize": 22, "align": "left", "baseline": "alphabetic", "color": "#000000"},
      "encoding": {
        "x": {"field": "x", "type": "quantitative", "scale": {"domain": [0, 12], "nice": false, "zero": false}, "axis": null},
        "y": {"field": "y", "type": "quantitative", "scale": {"domain": [0, 1.09], "nice": false, "zero": false}, "axis": null},
        "text": {"field": "text"}
      }
    },
    {
      "data": {"name": "labels"},
      "transform": [{"filter": "datum.kind === 'ytitle'"}],
      "mark": {"type": "text", "font": "Liberation Sans", "fontWeight": "bold", "fontSize": 36.5, "angle": 270, "align": "left", "baseline": "alphabetic", "color": "#000000"},
      "encoding": {
        "x": {"field": "x", "type": "quantitative", "scale": {"domain": [0, 12], "nice": false, "zero": false}, "axis": null},
        "y": {"field": "y", "type": "quantitative", "scale": {"domain": [0, 1.09], "nice": false, "zero": false}, "axis": null},
        "text": {"field": "text"}
      }
    },
    {
      "data": {"name": "labels"},
      "transform": [{"filter": "datum.kind === 'ytitle-sub'"}],
      "mark": {"type": "text", "font": "Liberation Sans", "fontWeight": "bold", "fontSize": 21, "angle": 270, "align": "left", "baseline": "alphabetic", "color": "#000000"},
      "encoding": {
        "x": {"field": "x", "type": "quantitative", "scale": {"domain": [0, 12], "nice": false, "zero": false}, "axis": null},
        "y": {"field": "y", "type": "quantitative", "scale": {"domain": [0, 1.09], "nice": false, "zero": false}, "axis": null},
        "text": {"field": "text"}
      }
    }
  ],
  "config": {
    "view": {"stroke": "#8c8c8c", "strokeWidth": 2}
  }
}
